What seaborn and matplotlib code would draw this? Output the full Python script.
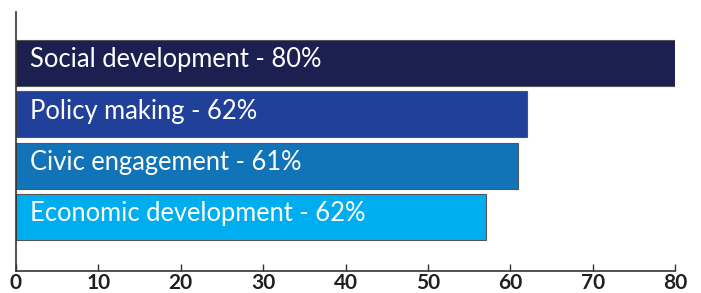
import pandas as pd
import seaborn as sns
import matplotlib.pyplot as plt

# values
categories = ['Social development', 'Policy making', 'Civic engagement', 'Economic development']
values = [80, 62, 61, 57]
labels = ['Social development - 80%', 'Policy making - 62%',
          'Civic engagement - 61%', 'Economic development - 62%']
colors = ['#1b2050', '#21409a', '#1174b8', '#00aeef']

df = pd.DataFrame({'category': categories, 'value': values})

sns.set_theme(style='white')
plt.rcParams['font.family'] = ['Lato', 'DejaVu Sans']

fig = plt.figure(figsize=(7.01, 2.93), dpi=100)
ax = fig.add_axes([16 / 701, 22 / 293, 659 / 701, 259 / 293])

sns.barplot(data=df, x='value', y='category', hue='category', palette=colors,
            legend=False, width=0.9, saturation=1, edgecolor='#555555',
            linewidth=0.8, ax=ax)

for i, lab in enumerate(labels):
    ax.text(1.7, i - 0.06, lab, color='white', fontsize=18.4, va='center', ha='left')

ax.set_xlim(0, 80)
ax.set_ylim(4.05, -0.99)
ax.set_xticks(range(0, 81, 10))
ax.set_yticks([])
ax.set_xlabel('')
ax.set_ylabel('')
ax.tick_params(axis='x', direction='in', length=5, width=1, colors='#333333',
               labelsize=15, labelcolor='#231f20', pad=1.5, bottom=True)
for lbl in ax.get_xticklabels():
    lbl.set_fontweight('bold')
for side in ['top', 'right']:
    ax.spines[side].set_visible(False)
for side in ['left', 'bottom']:
    ax.spines[side].set_color('#333333')
    ax.spines[side].set_linewidth(1.2)

fig.savefig('out.png', dpi=100)
